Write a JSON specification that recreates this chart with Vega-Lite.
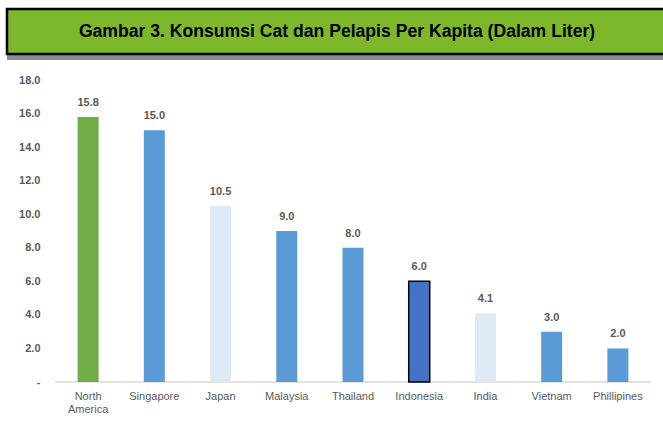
{
  "$schema": "https://vega.github.io/schema/vega-lite/v6.json",
  "background": "white",
  "padding": {"left": 1, "top": 7, "right": 0, "bottom": 0},
  "spacing": 14,
  "config": {"font": "Liberation Sans Narrow, Arial Narrow, Liberation Sans, Arial"},
  "datasets": {
    "consumption": [
      {"country": "North America", "liter": 15.8, "group": "na"},
      {"country": "Singapore", "liter": 15.0, "group": "mid"},
      {"country": "Japan", "liter": 10.5, "group": "light"},
      {"country": "Malaysia", "liter": 9.0, "group": "mid"},
      {"country": "Thailand", "liter": 8.0, "group": "mid"},
      {"country": "Indonesia", "liter": 6.0, "group": "id"},
      {"country": "India", "liter": 4.1, "group": "light"},
      {"country": "Vietnam", "liter": 3.0, "group": "mid"},
      {"country": "Phillipines", "liter": 2.0, "group": "mid"}
    ],
    "heading": [{"text": "Gambar 3.  Konsumsi Cat dan Pelapis Per Kapita (Dalam Liter)"}]
  },
  "vconcat": [
    {
      "width": 664,
      "height": 45,
      "view": {"stroke": null},
      "data": {"name": "heading"},
      "layer": [
        {
          "mark": {"type": "rule", "color": "#8c8c8c", "strokeWidth": 12, "strokeCap": "butt"},
          "encoding": {
            "x": {"datum": 0, "type": "quantitative", "scale": {"domain": [0, 1]}, "axis": null},
            "x2": {"datum": 1},
            "y": {"datum": 0, "type": "quantitative", "scale": {"domain": [0, 1]}, "axis": null}
          }
        },
        {
          "mark": {"type": "rect", "fill": "#7cb82a", "stroke": "#000000", "strokeWidth": 2.5},
          "encoding": {
            "x": {"datum": 0, "type": "quantitative", "scale": {"domain": [0, 1]}, "axis": null},
            "x2": {"datum": 1},
            "y": {"datum": 0, "type": "quantitative", "scale": {"domain": [0, 1]}, "axis": null},
            "y2": {"datum": 1}
          }
        },
        {
          "mark": {"type": "text", "fontSize": 17.6, "fontWeight": "bold", "color": "#000000", "align": "center", "baseline": "middle", "dx": -2},
          "encoding": {"text": {"field": "text"}}
        }
      ]
    },
    {
      "width": 644,
      "height": 302,
      "view": {"stroke": null},
      "data": {"name": "consumption"},
      "encoding": {
        "x": {
          "field": "country", "type": "nominal", "sort": null,
          "scale": {"range": [48, 644], "paddingInner": 0, "paddingOuter": 0},
          "axis": {
            "title": null, "ticks": false, "labelAngle": 0, "domain": false,
            "labelColor": "#595959", "labelFontSize": 11, "labelPadding": 8,
            "labelLineHeight": 13,
            "labelExpr": "datum.label == 'North America' ? ['North', 'America'] : datum.label"
          }
        },
        "y": {
          "field": "liter", "type": "quantitative",
          "scale": {"domain": [0, 18]},
          "axis": {
            "title": null, "grid": false, "domain": false, "ticks": false,
            "values": [0, 2, 4, 6, 8, 10, 12, 14, 16, 18],
            "labelExpr": "datum.value == 0 ? '-' : format(datum.value, '.1f')",
            "labelColor": "#595959", "labelFontSize": 11, "labelFontWeight": "bold",
            "labelPadding": 15, "offset": -48
          }
        }
      },
      "layer": [
        {
          "mark": {"type": "bar", "width": {"band": 1}, "fill": "transparent", "stroke": "#d9d9d9", "strokeWidth": 1},
          "encoding": {"y": {"datum": 0}, "y2": {"datum": 0}}
        },
        {
          "mark": {"type": "bar", "size": 21},
          "encoding": {
            "color": {
              "field": "group", "type": "nominal", "legend": null,
              "scale": {"domain": ["na", "mid", "light", "id"], "range": ["#70ad47", "#5b9bd5", "#deebf7", "#4472c4"]}
            },
            "stroke": {
              "field": "group", "type": "nominal", "legend": null,
              "scale": {"domain": ["na", "mid", "light", "id"], "range": ["transparent", "transparent", "transparent", "#000000"]}
            },
            "strokeWidth": {"value": 1.5}
          }
        },
        {
          "mark": {"type": "text", "dy": -9, "baseline": "bottom", "fontSize": 11, "fontWeight": "bold", "color": "#595959"},
          "encoding": {"text": {"field": "liter", "type": "quantitative", "format": ".1f"}}
        }
      ]
    }
  ]
}
